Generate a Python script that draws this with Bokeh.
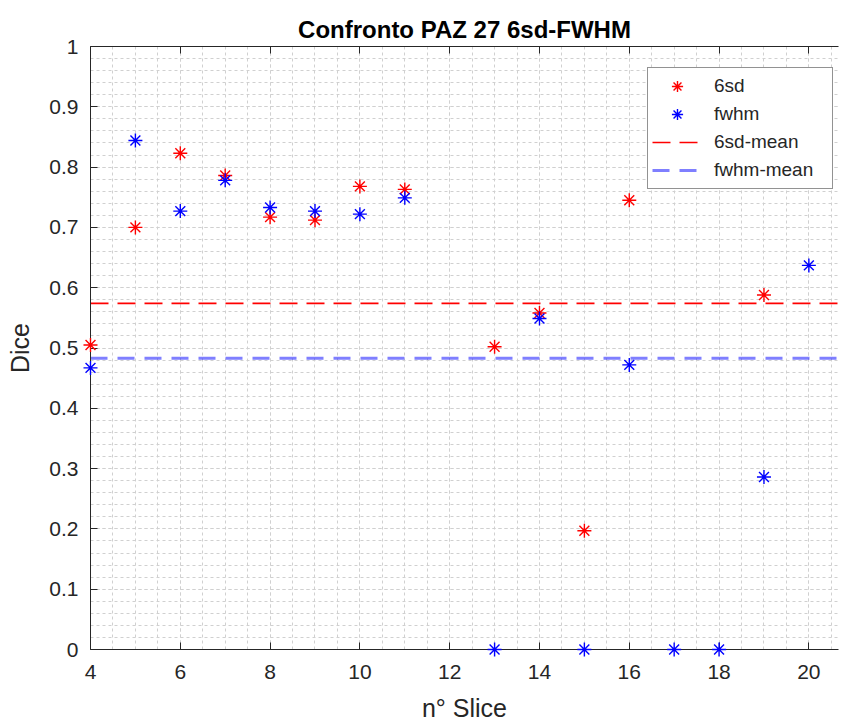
from bokeh.plotting import figure
from bokeh.models import FixedTicker, LinearAxis, Range1d, Legend, LegendItem
from bokeh.embed import file_html
from bokeh.resources import INLINE

# ---- data ----
slices_6sd = [4, 5, 6, 7, 8, 9, 10, 11, 13, 14, 15, 16, 19]
dice_6sd = [0.505, 0.700, 0.823, 0.786, 0.717, 0.712, 0.768, 0.763, 0.502, 0.558, 0.197, 0.745, 0.588]
slices_fwhm = [4, 5, 6, 7, 8, 9, 10, 11, 13, 14, 15, 16, 17, 18, 19, 20]
dice_fwhm = [0.467, 0.844, 0.727, 0.778, 0.733, 0.727, 0.722, 0.749, 0.0, 0.549, 0.0, 0.472, 0.0, 0.0, 0.286, 0.637]
mean_6sd = 0.574
mean_fwhm = 0.483

x_ticks = [4, 6, 8, 10, 12, 14, 16, 18, 20]
x_minor = [4 + 0.5 * i for i in range(0, 36)]
y_ticks = [0, 0.1, 0.2, 0.3, 0.4, 0.5, 0.6, 0.7, 0.8, 0.9, 1]
y_tick_labels = ["0", "0.1", "0.2", "0.3", "0.4", "0.5", "0.6", "0.7", "0.8", "0.9", "1"]
y_minor = [round(0.02 * i, 2) for i in range(0, 51)]

X_MIN, X_MAX = 4, 20.66
Y_MIN, Y_MAX = 0, 1

FONT = "Liberation Sans"
AX = "#262626"

p = figure(width=843, height=724, x_range=Range1d(X_MIN, X_MAX), y_range=Range1d(Y_MIN, Y_MAX),
           output_backend="svg", toolbar_location=None,
           min_border_left=90, min_border_right=5, min_border_top=46, min_border_bottom=74)
p.outline_line_color = None
p.background_fill_color = "white"

p.title.text = "Confronto PAZ 27 6sd-FWHM"
p.title.align = "center"
p.title.text_font = FONT
p.title.text_font_size = "24px"
p.title.text_font_style = "bold"
p.title.text_color = "#000000"
p.title.standoff = 8

p.xaxis.ticker = FixedTicker(ticks=x_ticks, minor_ticks=x_minor)
p.yaxis.ticker = FixedTicker(ticks=y_ticks, minor_ticks=y_minor)
p.yaxis.major_label_overrides = {t: l for t, l in zip(y_ticks, y_tick_labels)}

for ax in (p.xaxis, p.yaxis):
    ax.axis_line_color = AX
    ax.axis_line_width = 1
    ax.major_tick_line_color = AX
    ax.major_tick_in = 7
    ax.major_tick_out = 0
    ax.minor_tick_line_color = None
    ax.major_label_text_font = FONT
    ax.major_label_text_font_size = "21px"
    ax.major_label_text_color = AX
    ax.axis_label_text_font = FONT
    ax.axis_label_text_font_size = "25px"
    ax.axis_label_text_font_style = "normal"
    ax.axis_label_text_color = AX

p.xaxis.axis_label = "n° Slice"
p.yaxis.axis_label = "Dice"
p.xaxis.major_label_standoff = 11
p.yaxis.major_label_standoff = 8
p.xaxis.axis_label_standoff = 12
p.yaxis.axis_label_standoff = 12

# top box edge with inward ticks (no labels)
top_axis = LinearAxis(ticker=FixedTicker(ticks=x_ticks), major_label_text_font_size="1px",
                      major_label_text_color=None,
                      major_tick_in=7, major_tick_out=0, minor_tick_line_color=None,
                      axis_line_color=AX, major_tick_line_color=AX, major_label_standoff=0)
p.add_layout(top_axis, "above")

for g in (p.xgrid, p.ygrid):
    g.grid_line_color = "#d0d0d0"
    g.grid_line_dash = "3 3"
    g.grid_line_width = 1
    g.minor_grid_line_color = "#d0d0d0"
    g.minor_grid_line_dash = "3 3"
    g.minor_grid_line_width = 1

r1 = p.scatter(slices_6sd, dice_6sd, marker="asterisk", size=14, line_color="#ff0000", line_width=1.4)
r2 = p.scatter(slices_fwhm, dice_fwhm, marker="asterisk", size=14, line_color="#0000ff", line_width=1.4)
r1.level = "overlay"
r2.level = "overlay"
r3 = p.line([X_MIN, X_MAX], [mean_6sd, mean_6sd], line_color="#ff0000", line_width=1.6, line_dash="18 9")
r4 = p.line([X_MIN, X_MAX], [mean_fwhm, mean_fwhm], line_color="#0000ff", line_alpha=0.5,
            line_width=3, line_dash="17 10")

legend = Legend(items=[LegendItem(label="6sd", renderers=[r1]),
                       LegendItem(label="fwhm", renderers=[r2]),
                       LegendItem(label="6sd-mean", renderers=[r3]),
                       LegendItem(label="fwhm-mean", renderers=[r4])],
                location=(557, 460), margin=0, padding=4, spacing=0,
                glyph_width=50, glyph_height=28, label_height=28, label_width=114,
                label_standoff=12, label_text_font=FONT, label_text_font_size="19px",
                label_text_color=AX, border_line_color=AX, border_line_width=1,
                background_fill_color="white", background_fill_alpha=1)
p.add_layout(legend)

open("out.html", "w").write(file_html(p, INLINE))
